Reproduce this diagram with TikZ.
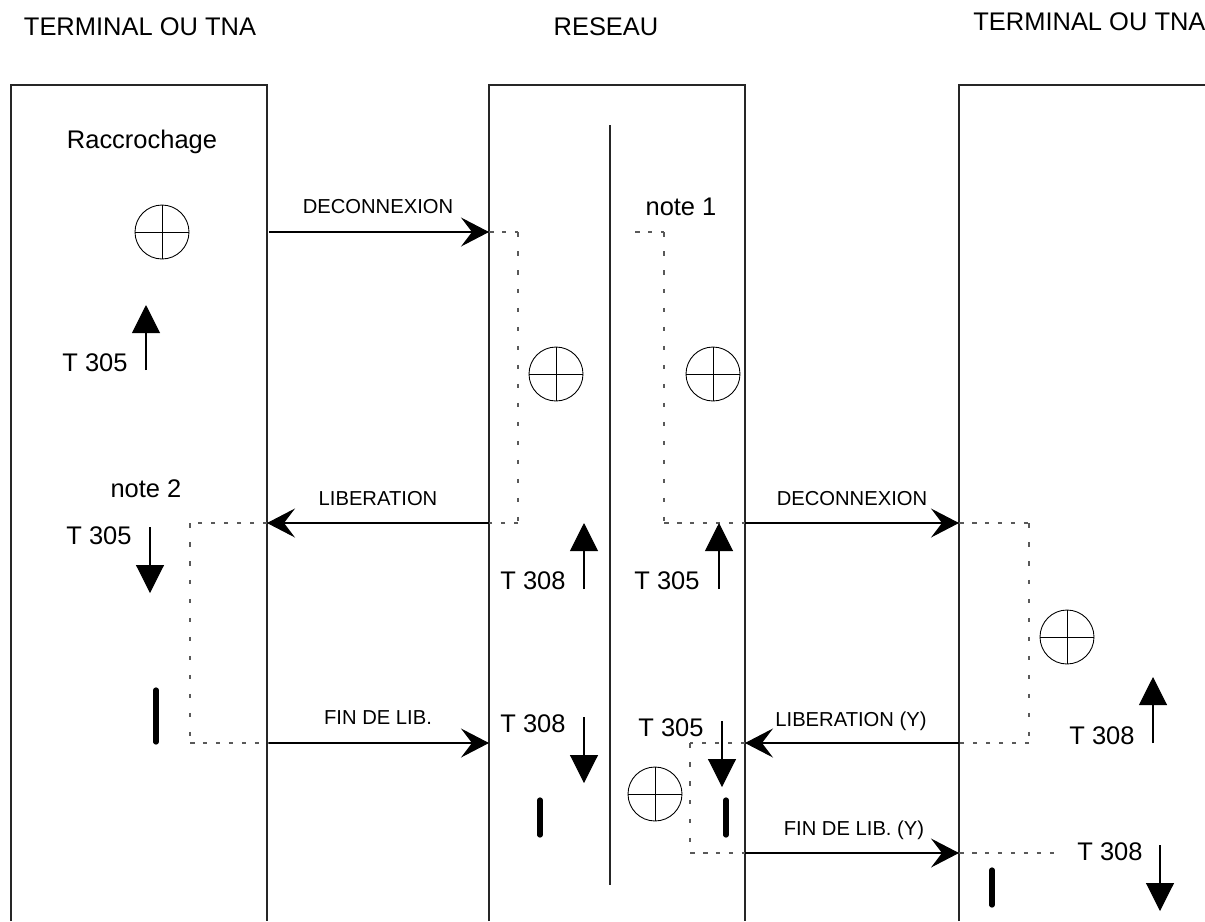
\documentclass[tikz,border=0pt]{standalone}
\usepackage{fontspec}
\setmainfont{Liberation Sans}
\usetikzlibrary{arrows.meta}

\begin{document}
\begin{tikzpicture}[
    x=0.02cm, y=-0.02cm,
    titre/.style={font=\fontsize{14.5}{17}\selectfont, inner sep=0pt},
    etiq/.style={font=\fontsize{14.5}{17}\selectfont, inner sep=0pt},
    msgtxt/.style={font=\fontsize{11.5}{14}\selectfont, inner sep=0pt},
    boite/.style={line width=0.6pt, draw=black!85},
    message/.style={-{Stealth[length=0.56cm, width=0.58cm, inset=0.22cm]}, line width=0.6pt},
    pointH/.style={line width=0.6pt, draw=black!65, dash pattern=on 0.09cm off 0.17cm},
    pointV/.style={line width=0.6pt, draw=black!65, dash pattern=on 0.09cm off 0.29cm},
    tempo/.style={-{Triangle[length=0.56cm, width=0.56cm]}, line width=0.6pt},
    barre/.style={line width=3pt, line cap=round},
    etat/.style={circle, draw, line width=0.5pt, minimum size=1.08cm, inner sep=0pt,
        path picture={\draw[line width=0.5pt]
            (path picture bounding box.north) -- (path picture bounding box.south)
            (path picture bounding box.west) -- (path picture bounding box.east);}}
]
    \useasboundingbox (0,0) rectangle (1205,921);

    % Titles
    \node[titre] (titreA) at (140,27) {TERMINAL OU TNA};
    \node[titre] (titreR) at (606,27) {RESEAU};
    \node[titre, anchor=west] (titreB) at (973,22) {TERMINAL OU TNA};

    % Boxes (open at the bottom)
    \draw[boite] (11,921) |- (267,85) -- (267,921);
    \draw[boite] (489,921) |- (745,85) -- (745,921);
    \draw[boite] (959,921) |- (1206,85);
    \draw[boite] (610,125) -- (610,885);

    % Message end points
    \coordinate (tA1) at (269,232); \coordinate (rA1) at (489,232);
    \coordinate (tA2) at (267,523); \coordinate (rA2) at (489,523);
    \coordinate (tA3) at (269,743); \coordinate (rA3) at (489,743);
    \coordinate (rB1) at (745,523); \coordinate (tB1) at (959,523);
    \coordinate (rB2) at (745,743); \coordinate (tB2) at (959,743);
    \coordinate (rB3) at (745,853); \coordinate (tB3) at (959,853);

    % Left terminal
    \node[etiq] (racc) at (142,142) {Raccrochage};
    \node[etat] (etatA) at (162,232) {};
    \draw[tempo] (146,370) -- (146,305);
    \node[etiq] (tpA1) at (95,363) {T 305};
    \node[etiq] (note2) at (146,489) {note 2};
    \draw[tempo] (150,527) -- (150,593);
    \node[etiq] (tpA2) at (99,536) {T 305};
    \draw[barre] (156,690) -- (156,742);
    \draw[pointH] (tA2) -- (190,523);
    \draw[pointV] (190,523) -- (190,743);
    \draw[pointH] (190,743) -- (tA3);

    % Network
    \node[etiq] (note1) at (681,207) {note 1};
    \draw[pointH] (rA1) -- (518,232);
    \draw[pointV] (518,232) -- (518,523);
    \draw[pointH] (518,523) -- (rA2);
    \draw[pointH] (635,232) -- (664,232);
    \draw[pointV] (664,232) -- (664,523);
    \draw[pointH] (664,523) -- (rB1);
    \node[etat] (etatR1) at (556,374) {};
    \node[etat] (etatR2) at (713,374) {};
    \draw[tempo] (584,589) -- (584,523);
    \node[etiq] (tpR1) at (533,581) {T 308};
    \draw[tempo] (719,589) -- (719,523);
    \node[etiq] (tpR2) at (667,581) {T 305};
    \draw[tempo] (584,717) -- (584,783);
    \node[etiq] (tpR3) at (533,724) {T 308};
    \draw[tempo] (722,721) -- (722,787);
    \node[etiq] (tpR4) at (671,728) {T 305};
    \node[etat] (etatR3) at (655,794) {};
    \draw[barre] (540,800) -- (540,835);
    \draw[barre] (726,800) -- (726,835);
    \draw[pointH] (rB2) -- (690,743);
    \draw[pointV] (690,743) -- (690,853);
    \draw[pointH] (690,853) -- (rB3);

    % Right terminal
    \draw[pointH] (tB1) -- (1029,523);
    \draw[pointV] (1029,523) -- (1029,743);
    \draw[pointH] (1029,743) -- (tB2);
    \node[etat] (etatB) at (1067,637) {};
    \draw[tempo] (1153,743) -- (1153,677);
    \node[etiq] (tpB1) at (1102,736) {T 308};
    \draw[pointH] (tB3) -- (1062,853);
    \draw[tempo] (1160,845) -- (1160,911);
    \node[etiq] (tpB2) at (1110,852) {T 308};
    \draw[barre] (992,870) -- (992,905);

    % Messages
    \draw[message] (tA1) -- (rA1);
    \node[msgtxt] (mDecA) at (378,207) {DECONNEXION};
    \draw[message] (rA2) -- (tA2);
    \node[msgtxt] (mLibA) at (378,499) {LIBERATION};
    \draw[message] (tA3) -- (rA3);
    \node[msgtxt] (mFinA) at (378,718) {FIN DE LIB.};
    \draw[message] (rB1) -- (tB1);
    \node[msgtxt] (mDecB) at (852,499) {DECONNEXION};
    \draw[message] (tB2) -- (rB2);
    \node[msgtxt] (mLibB) at (851,721) {LIBERATION (Y)};
    \draw[message] (rB3) -- (tB3);
    \node[msgtxt] (mFinB) at (854,830) {FIN DE LIB. (Y)};

\end{tikzpicture}
\end{document}
